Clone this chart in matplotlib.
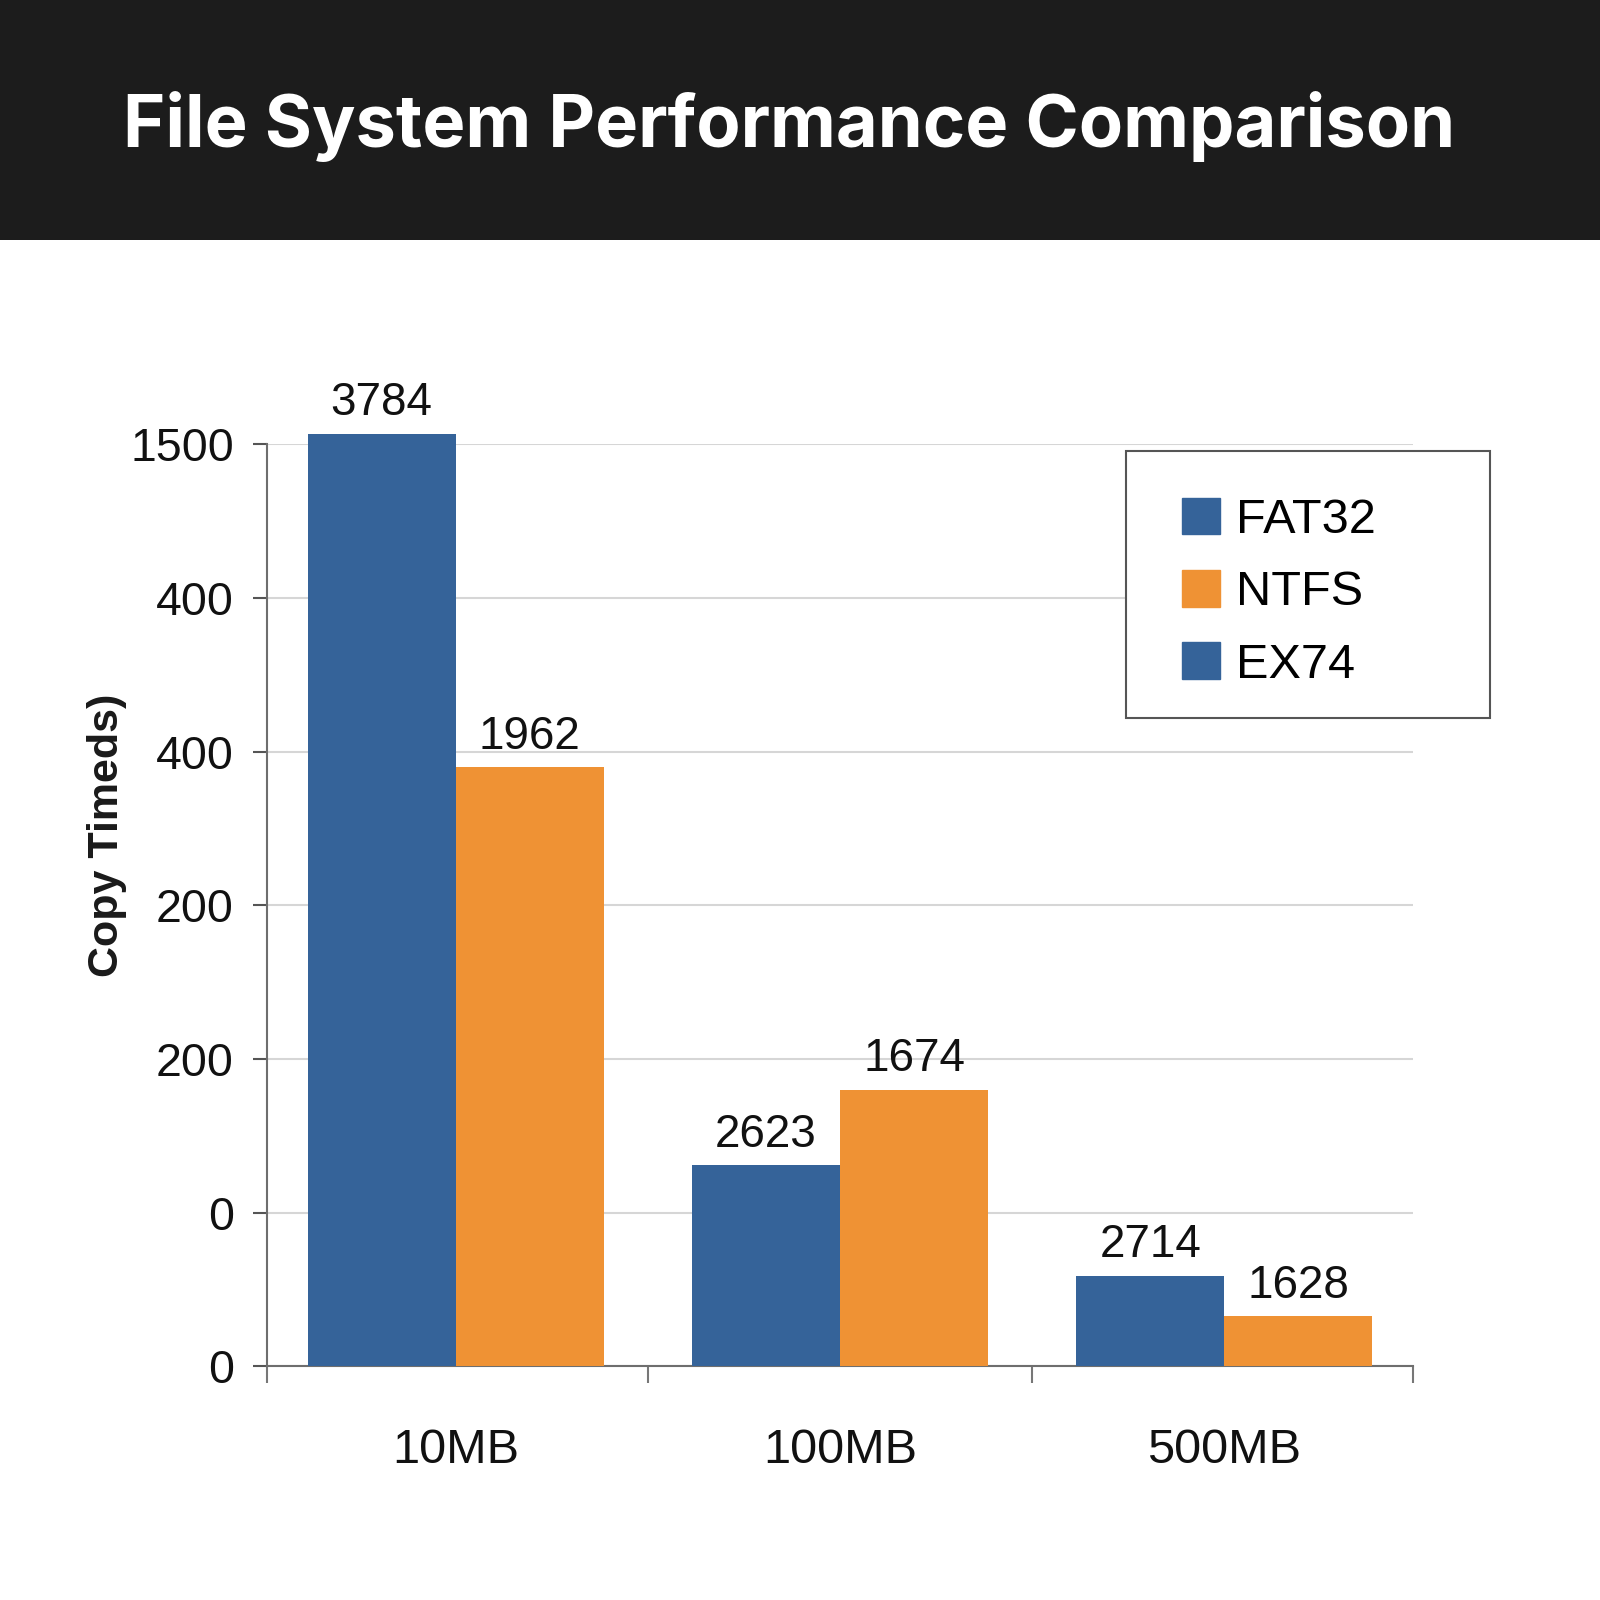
import matplotlib.pyplot as plt
from matplotlib.patches import Patch, Rectangle

sizes = ["10MB", "100MB", "500MB"]
# bar heights in tick-slot units (axis labels are not monotonic in the reference)
fat32 = [6.07, 1.31, 0.59]
ntfs = [3.90, 1.80, 0.325]
fat32_labels = ["3784", "2623", "2714"]
ntfs_labels = ["1962", "1674", "1628"]
ytick_labels = ["0", "0", "200", "200", "400", "400", "1500"]
legend_names = ["FAT32", "NTFS", "EX74"]

blue = "#356399"
orange = "#ef9234"

plt.rcParams['font.family'] = ['Liberation Sans', 'DejaVu Sans']

fig = plt.figure(figsize=(16, 16), dpi=100)
fig.patch.set_facecolor("white")

# dark title band
fig.patches.append(Rectangle((0, 0.85), 1, 0.15, transform=fig.transFigure,
                             facecolor="#1c1c1c", edgecolor="none", zorder=0))
fig.text(0.493, 0.921, "File System Performance Comparison", color="white",
         fontsize=52, fontweight="bold", family=["Inter", "DejaVu Sans"],
         ha="center", va="center")

ax = fig.add_axes([0.167, 0.146, 0.716, 0.5763])
x = list(range(len(sizes)))
w = 0.385
b1 = ax.bar([i - w / 2 for i in x], fat32, width=w, color=blue, clip_on=False, zorder=3)
b2 = ax.bar([i + w / 2 for i in x], ntfs, width=w, color=orange, clip_on=False, zorder=3)

for bars, labs in [(b1, fat32_labels), (b2, ntfs_labels)]:
    for r, t in zip(bars, labs):
        ax.annotate(t, (r.get_x() + r.get_width() / 2, r.get_height()),
                    xytext=(0, 6), textcoords="offset points", annotation_clip=False,
                    ha="center", va="bottom", fontsize=33, color="#111111")

ax.set_xlim(-0.49, 2.49)
ax.set_ylim(0, 6)
ax.set_yticks(range(len(ytick_labels)))
ax.set_yticklabels(ytick_labels)
ax.set_xticks(x)
ax.set_xticklabels(sizes)
ax.set_xticks([-0.49, 0.5, 1.5, 2.49], minor=True)
ax.tick_params(axis="x", which="major", length=0, pad=44, labelsize=35, labelcolor="#111111")
ax.tick_params(axis="x", which="minor", length=12, width=1.5, color="#777777", direction="out")
ax.tick_params(axis="y", length=10, width=1.5, color="#555555", pad=14, labelsize=33.5, labelcolor="#111111")

ax.grid(axis="y", color="#d6d6d6", linewidth=1.5, zorder=0)
ax.set_axisbelow(True)
for s in ["top", "right"]:
    ax.spines[s].set_visible(False)
for s in ["left", "bottom"]:
    ax.spines[s].set_color("#6e6e6e")
    ax.spines[s].set_linewidth(1.5)

fig.text(0.067, 0.478, "Copy Timeds)", rotation=90, fontsize=31, fontweight="bold",
         ha="center", va="center", color="#1a1a1a")

# legend with a separate frame rectangle
fig.patches.append(Rectangle((0.704, 0.551), 0.227, 0.167, transform=fig.transFigure,
                             facecolor="white", edgecolor="#555555", linewidth=1.5, zorder=1))
handles = [Patch(color=blue), Patch(color=orange), Patch(color=blue)]
fig.legend(handles, legend_names, loc="upper left", bbox_to_anchor=(0.739, 0.689),
           frameon=False, fontsize=35, borderpad=0, borderaxespad=0,
           handlelength=0.78, handleheight=0.78, handletextpad=0.33, labelspacing=0.56)

fig.savefig("out.png", dpi=100, facecolor="white")
